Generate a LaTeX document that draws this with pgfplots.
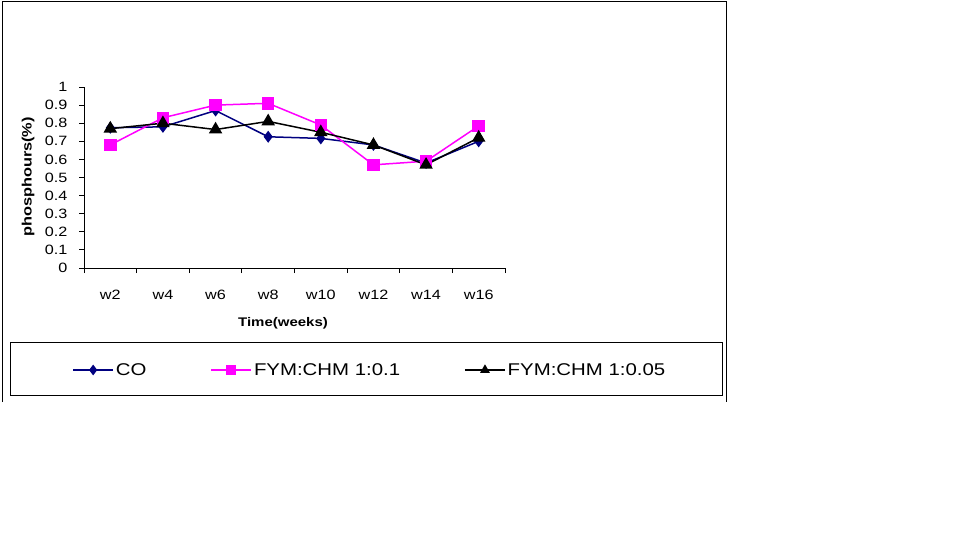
\documentclass[border=0pt]{standalone}
\usepackage{fontspec}
\setmainfont{Liberation Sans}[FakeStretch=1.2]
\usepackage{pgfplots}
\pgfplotsset{compat=1.18}

\definecolor{conavy}{RGB}{0,0,128}
\definecolor{fymmag}{RGB}{255,0,255}

\begin{document}
\begin{tikzpicture}
\useasboundingbox[fill=white] (0pt,0pt) rectangle (977pt,-544pt);
% outer chart frame (cut off at the bottom)
\draw[line width=1pt] (2pt,-402pt) -- (2pt,-1.5pt) -- (726pt,-1.5pt) -- (726pt,-402pt);
% legend frame
\draw[line width=1pt] (10.5pt,-342.5pt) rectangle (722pt,-395pt);

\begin{axis}[
  at={(84pt,-268pt)}, anchor=south west,
  scale only axis, width=421pt, height=181pt,
  xmin=-0.5, xmax=7.5, ymin=0, ymax=1,
  axis x line*=bottom, axis y line*=left,
  axis line style={line width=1pt,-},
  tick align=outside,
  major tick length=5pt, minor tick length=5pt,
  tick style={line width=1pt, black},
  xtick={0,1,2,3,4,5,6,7},
  xticklabels={w2,w4,w6,w8,w10,w12,w14,w16},
  major x tick style={draw=none},
  minor xtick={-0.5,0.5,1.5,2.5,3.5,4.5,5.5,6.5,7.5},
  ytick={0,0.1,0.2,0.3,0.4,0.5,0.6,0.7,0.8,0.9,1},
  yticklabels={0,0.1,0.2,0.3,0.4,0.5,0.6,0.7,0.8,0.9,1},
  ticklabel style={font=\fontsize{13.5}{14}\selectfont},
  xticklabel style={yshift=-14pt},
  yticklabel style={xshift=-8pt},
  clip=false,
  legend columns=3,
  legend style={draw=none, fill=none, at={(0.679,-0.5635)}, anchor=center,
    font=\fontsize{17}{18}\selectfont,
    /tikz/every even column/.append style={column sep=62pt},
    nodes={inner sep=2pt}},
  legend image code/.code={\draw[mark repeat=2,mark phase=2,#1,mark size=4.2pt]
    plot coordinates {(0pt,0pt) (20pt,0pt) (40pt,0pt)};},
]
\addplot[conavy, line width=1.5pt, mark=diamond*, mark size=4.8pt, mark options={solid, fill=conavy}]
  coordinates {(0,0.775) (1,0.78) (2,0.87) (3,0.725) (4,0.716) (5,0.68) (6,0.58) (7,0.70)};
\addlegendentry{CO}
\addplot[fymmag, line width=1.5pt, mark=square*, mark size=5.5pt, mark options={solid, fill=fymmag}]
  coordinates {(0,0.68) (1,0.83) (2,0.90) (3,0.91) (4,0.79) (5,0.57) (6,0.59) (7,0.785)};
\addlegendentry{FYM:CHM 1:0.1}
\addplot[black, line width=1.5pt, mark=triangle*, mark size=6.3pt, mark options={solid, fill=black}]
  coordinates {(0,0.77) (1,0.80) (2,0.765) (3,0.81) (4,0.75) (5,0.68) (6,0.57) (7,0.72)};
\addlegendentry{FYM:CHM 1:0.05}
\end{axis}

\node[rotate=90, font=\bfseries\fontsize{13.6}{14}\selectfont] at (28pt,-177pt) {phosphours(\%)};
\node[font=\bfseries\fontsize{12.5}{13}\selectfont] at (283pt,-323pt) {Time(weeks)};
\end{tikzpicture}
\end{document}
